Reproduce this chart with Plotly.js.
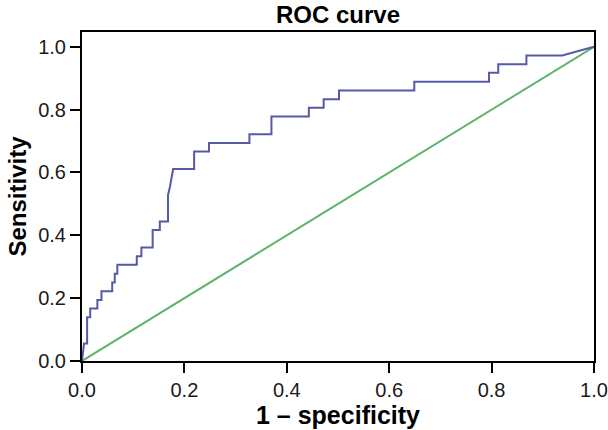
<!DOCTYPE html>
<html>
<head>
<meta charset="utf-8">
<script src="https://cdn.plot.ly/plotly-3.0.1.min.js"></script>
<style>html,body{margin:0;padding:0;background:#fff;}#chart{width:608px;height:430px;}</style>
</head>
<body>
<div id="chart"></div>
<script>
// ROC curve corner points (1 - specificity, sensitivity)
const fpr = [0, 0.004, 0.010, 0.010, 0.016, 0.016, 0.030, 0.030, 0.038, 0.038, 0.059, 0.059, 0.064, 0.064, 0.069, 0.069, 0.107, 0.107, 0.116, 0.116, 0.138, 0.138, 0.152, 0.152, 0.168, 0.168, 0.172, 0.175, 0.178, 0.219, 0.219, 0.248, 0.248, 0.327, 0.327, 0.370, 0.370, 0.443, 0.443, 0.472, 0.472, 0.502, 0.502, 0.649, 0.649, 0.795, 0.795, 0.813, 0.813, 0.868, 0.868, 0.938, 0.985, 1.0];
const tpr = [0, 0.056, 0.056, 0.139, 0.139, 0.167, 0.167, 0.194, 0.194, 0.222, 0.222, 0.250, 0.250, 0.278, 0.278, 0.306, 0.306, 0.333, 0.333, 0.361, 0.361, 0.417, 0.417, 0.444, 0.444, 0.528, 0.556, 0.583, 0.611, 0.611, 0.667, 0.667, 0.694, 0.694, 0.722, 0.722, 0.778, 0.778, 0.806, 0.806, 0.833, 0.833, 0.861, 0.861, 0.889, 0.889, 0.917, 0.917, 0.944, 0.944, 0.972, 0.972, 0.994, 1.0];
// reference line
const refX = [0, 1];
const refY = [0, 1];
const tickVals = [0, 0.2, 0.4, 0.6, 0.8, 1.0];
const tickText = ['0.0', '0.2', '0.4', '0.6', '0.8', '1.0'];

const font = 'Arial, "Liberation Sans", sans-serif';

const traces = [
  {x: refX, y: refY, mode: 'lines', line: {color: '#5db36b', width: 2}, hoverinfo: 'skip'},
  {x: fpr, y: tpr, mode: 'lines', line: {color: '#5559a8', width: 2}, hoverinfo: 'skip'}
];

const axisCommon = {
  showgrid: false, zeroline: false,
  showline: true, mirror: true, linecolor: '#000', linewidth: 2,
  ticks: 'outside', ticklen: 10, tickwidth: 2, tickcolor: '#000',
  tickvals: tickVals, ticktext: tickText,
  tickfont: {family: font, size: 20, color: '#1a1a1a'}
};

const layout = {
  width: 608, height: 430,
  paper_bgcolor: '#fff', plot_bgcolor: '#fff',
  showlegend: false,
  margin: {l: 82, r: 14, t: 32, b: 69},
  title: {text: '<b>ROC curve</b>', font: {family: font, size: 24, color: '#000'},
          x: 0.5, xref: 'paper', y: 1 - 15/430, yref: 'container', yanchor: 'middle'},
  xaxis: Object.assign({}, axisCommon, {
    range: [0, 1],
    title: {text: '<b>1 – specificity</b>', font: {family: font, size: 25, color: '#000'}, standoff: 2}
  }),
  yaxis: Object.assign({}, axisCommon, {
    range: [0, 1.047],
    title: {text: '<b>Sensitivity</b>', font: {family: font, size: 24, color: '#000'}, standoff: 5}
  })
};

Plotly.newPlot('chart', traces, layout, {staticPlot: true, displayModeBar: false});
</script>
</body>
</html>
